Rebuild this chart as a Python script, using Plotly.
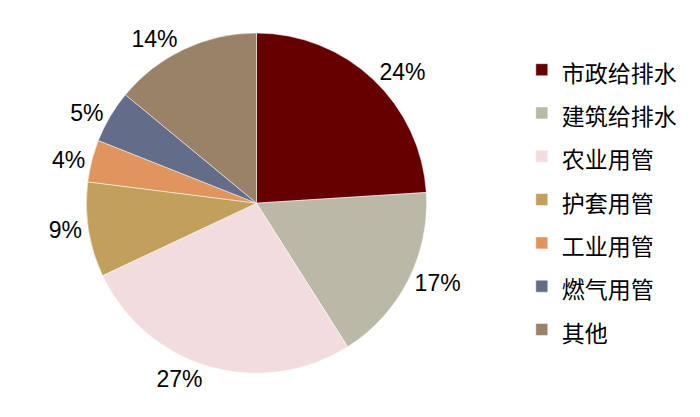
import plotly.graph_objects as go

categories = ["市政给排水", "建筑给排水", "农业用管", "护套用管", "工业用管", "燃气用管", "其他"]
values = [24, 17, 27, 9, 4, 5, 14]
colors = ["#660000", "#BAB8A6", "#F2DCDD", "#C0A05C", "#E0955E", "#636C88", "#9A8269"]

legend_labels = ['<span style="font-size:23px">%s</span>' % c for c in categories]

fig = go.Figure(go.Pie(
    labels=legend_labels,
    values=values,
    sort=False,
    direction="clockwise",
    rotation=0,
    marker=dict(colors=colors, line=dict(color="white", width=0.5)),
    textposition="outside",
    texttemplate="%{percent:.0%}",
    textfont=dict(family="Liberation Sans, Arial", size=23, color="black"),
    domain=dict(x=[0.0, 0.71], y=[0.124, 0.940]),
    hoverinfo="percent",
))

fig.update_layout(
    width=700, height=417,
    margin=dict(l=0, r=0, t=0, b=0, autoexpand=False),
    paper_bgcolor="white",
    showlegend=True,
    legend=dict(
        x=0.734, y=0.916, xanchor="left", yanchor="top",
        font=dict(family="Noto Sans CJK SC", size=31, color="black"),
    ),
)

fig.write_html("out.html")
